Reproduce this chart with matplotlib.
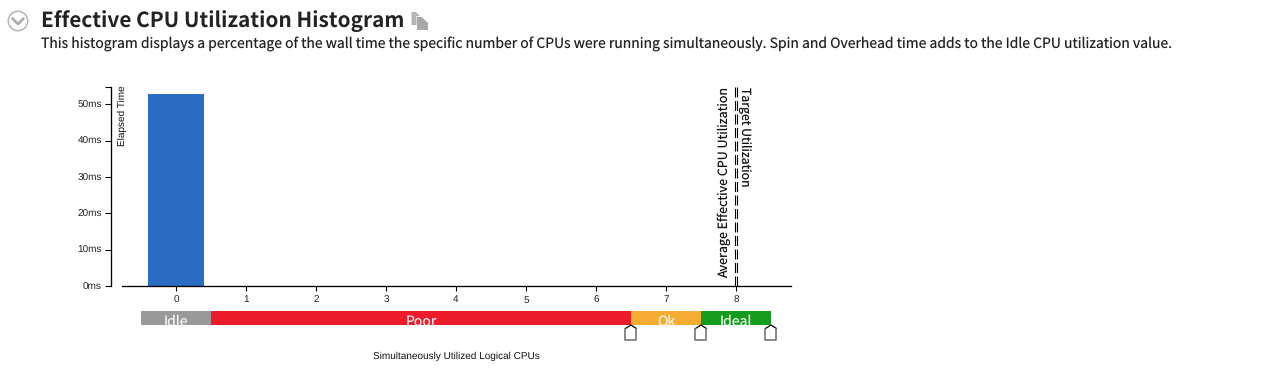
import matplotlib
matplotlib.use("Agg")
import matplotlib.pyplot as plt
from matplotlib.patches import Circle, Polygon

plt.rcParams["text.hinting"] = "no_hinting"

W, H = 1263, 378
cpus = [0, 1, 2, 3, 4, 5, 6, 7, 8]
elapsed_ms = [52.9, 0, 0, 0, 0, 0, 0, 0, 0]
y_ticks = [0, 10, 20, 30, 40, 50]
y_tick_labels = ["0ms", "10ms", "20ms", "30ms", "40ms", "50ms"]
band_labels = ["Idle", "Poor", "Ok", "Ideal"]
band_starts = [-0.5, 0.5, 6.5, 7.5]
band_ends = [0.5, 6.5, 7.5, 8.5]
band_colors = ["#999999", "#ED1C2A", "#F5AC32", "#169C1C"]
threshold_pos = [6.5, 7.5, 8.5]
avg_util = 7.98
target_util = 8.01
title = "Effective CPU Utilization Histogram"
subtitle = ("This histogram displays a percentage of the wall time the specific number of CPUs "
            "were running simultaneously. Spin and Overhead time adds to the Idle CPU utilization value.")

HEAD = ["Noto Sans CJK SC", "DejaVu Sans"]
SMALL = ["Liberation Sans", "DejaVu Sans"]
px = 72 / 100
XLIM = (-0.771, 8.786)
YMAX = 54.8

fig = plt.figure(figsize=(W / 100, H / 100), dpi=100, facecolor="white")

def rect(l, t, r, b):
    return [l / W, 1 - b / H, (r - l) / W, (b - t) / H]

ov = fig.add_axes([0, 0, 1, 1])
ov.set_xlim(0, W)
ov.set_ylim(H, 0)
ov.axis("off")
ov.add_patch(Circle((18, 21), 9.7, fc="white", ec="#b4b4b4", lw=1.1))
ov.plot([12.5, 18, 23.5], [18.5, 24, 18.5], color="#ababab", lw=1.9, solid_capstyle="round")
ov.add_patch(Polygon([(411.5, 12), (416, 12), (420, 16), (416.5, 16), (416.5, 25), (411.5, 25)],
                     fc="#b5b5b5", ec="none"))
ov.add_patch(Polygon([(417, 17), (422, 17), (428, 23), (428, 30), (417, 30)], fc="#a8a8a8", ec="none"))
ov.text(41, 21.5, title, family=HEAD, fontweight="bold", fontsize=20.8 * px, color="#222222",
        va="center", ha="left")
ov.text(41, 44.5, subtitle, family=HEAD, fontsize=13.95 * px, color="#222222", va="center", ha="left")

ax = fig.add_axes(rect(122, 87, 791, 286))
ax.patch.set_alpha(0)
ax.set_xlim(*XLIM)
ax.set_ylim(0, YMAX)
ax.bar(cpus, elapsed_ms, width=0.8, color="#2B6CC4")
for s in ["top", "right"]:
    ax.spines[s].set_visible(False)
ax.spines["left"].set_position(("outward", 11 * px))
ax.spines["left"].set_linewidth(0.95)
ax.spines["bottom"].set_linewidth(0.95)
ax.set_xticks(cpus)
ax.set_xticklabels([str(c) for c in cpus], family=SMALL, fontsize=10 * px, color="#222222")
ax.set_yticks(y_ticks + [YMAX])
ax.set_yticklabels(y_tick_labels + [""], family=SMALL, fontsize=10 * px, color="#222222")
ax.tick_params(axis="x", length=5 * px, width=0.8, pad=4.2 * px)
ax.tick_params(axis="y", length=6 * px, width=0.8, pad=3 * px)
for xv in (avg_util, target_util):
    ax.plot([xv, xv], [YMAX, 0], color="black", lw=0.8, dashes=(9, 3.15))
ax.text(avg_util - 0.05, YMAX + 0.1, "Average Effective CPU Utilization", rotation=90, family=HEAD,
        fontsize=12.5 * px, va="top", ha="right", color="#111111")
ax.text(target_util + 0.02, YMAX + 0.1, "Target Utilization", rotation=270, family=HEAD,
        fontsize=12.3 * px, va="top", ha="left", color="#111111")
ov.text(122.8, 116, "Elapsed Time", rotation=90, family=SMALL, fontsize=10 * px,
        va="center", ha="center", color="#111111")
ov.text(456, 356, "Simultaneously Utilized Logical CPUs", family=SMALL, fontsize=10 * px,
        va="center", ha="center", color="#111111")

band = fig.add_axes(rect(122, 311, 791, 325))
band.set_xlim(*XLIM)
band.set_ylim(0, 1)
band.axis("off")
for start, end, color, label in zip(band_starts, band_ends, band_colors, band_labels):
    band.barh(0.5, end - start, left=start, height=1, color=color)
    band.text((start + end) / 2, 0.35, label, family=HEAD, fontsize=14 * px, color="white",
              alpha=0.9, ha="center", va="center_baseline", clip_on=True)

handle = fig.add_axes(rect(122, 325, 791, 341))
handle.set_xlim(*XLIM)
handle.set_ylim(16, 0)
handle.axis("off")
unit = (XLIM[1] - XLIM[0]) / 669
for pos in threshold_pos:
    xs = [pos + v * unit for v in (-5.5, 0, 5.5, 5.5, -5.5, -5.5)]
    ys = [3.5, 0, 3.5, 15, 15, 3.5]
    handle.add_patch(Polygon(list(zip(xs, ys)), fc="white", ec="none"))
    handle.plot(xs[:3], ys[:3], color="black", lw=0.9, clip_on=False)
    handle.plot(xs[2:], ys[2:], color="#777777", lw=1.2, clip_on=False)

fig.savefig("out.png", dpi=100, facecolor="white")
